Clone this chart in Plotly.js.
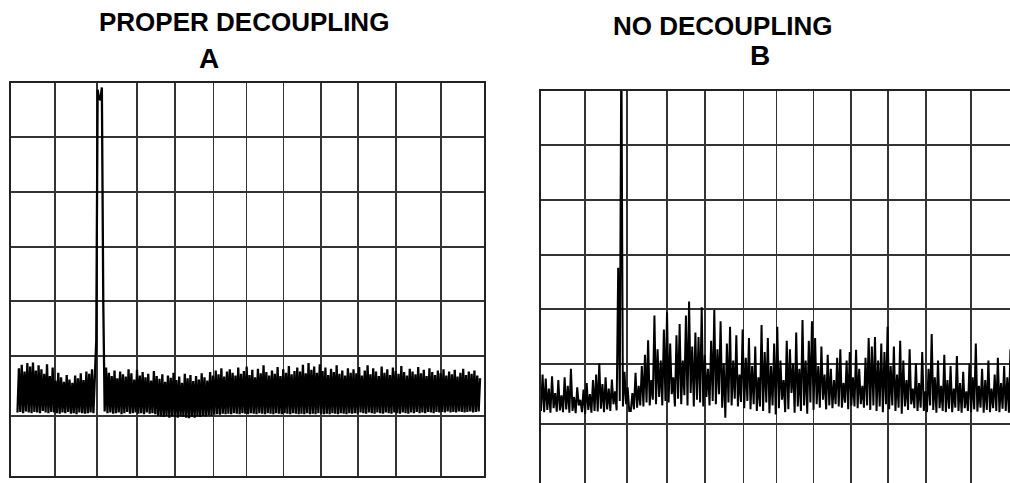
<!DOCTYPE html>
<html><head><meta charset="utf-8">
<script src="https://cdn.plot.ly/plotly-3.0.1.min.js"></script>
<style>html,body{margin:0;padding:0;background:#fff;} #chart{width:1010px;height:483px;}</style>
</head><body><div id="chart"></div>
<script>
// grid divisions (screen graticule), in division units
const colGrid = [0, 1.116, 2.181, 3.196, 4.16, 5.14, 5.98, 6.92, 7.864, 8.803, 9.767, 10.909, 12];
const rowGrid = [0, 1.069, 2.137, 3.117, 4.079, 5.059, 6.038, 7];

const titleA = "PROPER DECOUPLING";
const labelA = "A";
const titleB = "NO DECOUPLING";
const labelB = "B";

// frequency span of each sweep, in divisions
const spanA = [0.165, 11.9];
const spanB = [0, 11.95];

// trace amplitudes (divisions above bottom of screen)
const spectrumA = [
1.13,1.92,1.14,1.98,1.12,1.86,1.15,2.01,1.13,1.95,
1.12,2.02,1.14,1.88,1.13,1.97,1.12,1.90,1.16,1.82,
1.13,1.99,1.12,1.78,1.14,1.93,1.13,1.70,1.12,1.84,
1.11,1.76,1.13,1.68,1.12,1.80,1.14,1.72,1.11,1.66,
1.12,1.79,1.10,1.74,1.13,1.83,1.12,1.71,1.11,1.86,
1.12,1.82,1.13,1.90,1.12,1.95,2.40,6.88,6.72,6.70,
6.92,3.10,1.15,1.93,1.12,1.84,1.13,1.78,1.11,1.88,
1.12,1.74,1.13,1.86,1.10,1.81,1.12,1.77,1.14,1.90,
1.11,1.83,1.12,1.72,1.13,1.89,1.11,1.79,1.12,1.85,
1.10,1.76,1.13,1.82,1.11,1.70,1.12,1.87,1.10,1.78,
1.07,1.73,1.06,1.81,1.05,1.68,1.07,1.79,1.04,1.75,
1.06,1.84,1.05,1.71,1.04,1.77,1.06,1.66,1.05,1.82,
1.04,1.74,1.03,1.80,1.05,1.69,1.04,1.78,1.06,1.72,
1.05,1.83,1.07,1.76,1.06,1.70,1.08,1.85,1.07,1.79,
1.09,1.88,1.10,1.81,1.09,1.92,1.11,1.77,1.10,1.86,
1.11,1.90,1.10,1.84,1.12,1.79,1.11,1.93,1.10,1.82,
1.12,1.87,1.11,1.95,1.10,1.80,1.12,1.89,1.11,1.76,
1.10,1.91,1.12,1.83,1.11,1.97,1.10,1.85,1.12,1.79,
1.11,1.88,1.10,1.82,1.12,1.94,1.11,1.78,1.10,1.90,
1.12,1.84,1.11,1.96,1.10,1.81,1.12,1.87,1.11,1.93,
1.10,1.86,1.11,1.98,1.10,1.83,1.12,2.01,1.10,1.89,
1.11,1.95,1.10,1.84,1.12,1.99,1.11,1.87,1.10,1.93,
1.11,1.80,1.10,1.91,1.12,1.85,1.11,1.97,1.10,1.82,
1.12,1.88,1.11,1.79,1.10,1.92,1.12,1.84,1.11,1.90,
1.12,1.83,1.11,1.94,1.13,1.79,1.12,1.88,1.11,1.97,
1.13,1.81,1.12,1.92,1.11,1.86,1.13,1.78,1.12,1.95,
1.11,1.84,1.13,1.90,1.12,1.80,1.11,1.93,1.13,1.87,
1.12,1.82,1.11,1.96,1.13,1.85,1.12,1.79,1.11,1.91,
1.13,1.86,1.12,1.81,1.14,1.94,1.12,1.83,1.13,1.89,
1.12,1.78,1.14,1.92,1.13,1.85,1.12,1.80,1.14,1.88,
1.13,1.83,1.14,1.90,1.13,1.79,1.15,1.86,1.13,1.81,
1.14,1.89,1.13,1.77,1.15,1.84,1.14,1.91,1.13,1.80,
1.14,1.86,1.15,1.82,1.13,1.88,1.14,1.79,1.15,1.74
];

const spectrumB = [
1.30,1.95,1.28,1.88,1.32,1.70,1.27,1.92,1.35,1.62,
1.29,1.85,1.31,1.58,1.28,1.90,1.33,1.75,1.27,2.05,
1.30,1.55,1.26,1.72,1.40,1.50,1.28,1.68,1.25,1.80,
1.32,1.60,1.27,1.85,1.30,1.95,1.29,2.15,1.34,1.78,
1.28,1.90,1.33,1.70,1.30,1.86,1.42,1.65,1.31,3.85,
1.48,8.00,1.38,2.00,1.42,1.72,1.30,1.30,1.62,1.33,
1.98,1.36,1.75,1.40,2.10,1.38,2.30,1.45,2.56,1.40,
1.85,1.50,3.00,1.42,2.40,1.55,2.20,1.40,2.75,1.48,
3.06,1.45,2.50,1.60,1.90,1.38,2.65,1.52,2.85,1.42,
2.20,1.58,3.00,1.40,3.25,1.62,2.45,1.38,2.70,1.50,
2.62,1.45,3.15,1.38,2.30,1.55,2.05,1.40,2.55,1.48,
3.10,1.42,2.40,1.60,2.90,1.36,2.15,1.18,2.50,1.45,
2.80,1.40,2.20,1.52,2.65,1.38,1.95,1.46,2.75,1.35,
2.25,1.48,2.60,1.33,2.10,1.42,2.45,1.30,1.90,1.38,
2.83,1.30,2.35,1.45,2.60,1.26,2.10,1.40,2.50,1.24,
2.80,1.35,2.20,1.50,1.85,1.28,2.55,1.33,2.40,1.62,
2.15,1.27,2.70,1.38,2.05,1.30,2.92,1.40,2.20,1.25,
2.55,1.45,2.90,1.32,2.60,1.42,2.10,1.36,2.45,1.50,
1.95,1.33,2.30,1.40,2.05,1.35,1.85,1.42,2.25,1.38,
2.40,1.36,1.80,1.45,2.20,1.33,2.35,1.40,1.90,1.38,
2.39,1.35,2.05,1.42,1.75,1.36,2.25,1.40,2.60,1.32,
2.45,1.40,2.62,1.30,2.20,1.38,2.50,1.28,2.35,1.42,
2.80,1.33,2.10,1.40,2.45,1.30,1.95,1.36,2.55,1.25,
2.20,1.38,1.85,1.32,2.40,1.42,1.70,1.35,2.15,1.30,
1.80,1.36,2.35,1.30,1.65,1.28,2.05,1.40,2.67,1.32,
1.90,1.27,2.20,1.35,1.75,1.30,2.30,1.28,1.85,1.34,
2.10,1.28,1.70,1.36,2.28,1.30,1.80,1.27,2.00,1.35,
1.65,1.30,2.15,1.28,1.90,1.33,2.50,1.29,1.75,1.36,
2.05,1.27,1.85,1.32,2.20,1.28,1.70,1.35,1.95,1.30,
2.25,1.28,1.80,1.34,2.10,1.30,1.90,1.27,2.40,1.32
];

function sweep(vals, span) {
  return vals.map((_, i) => span[0] + i * (span[1] - span[0]) / (vals.length - 1));
}

const W = 1010, H = 483;
const px = v => v / W;
const py = v => 1 - v / H;

const gridCommon = {
  showgrid: true, gridcolor: '#333', gridwidth: 1.4,
  showticklabels: false, ticks: '', zeroline: false,
  linecolor: '#222', linewidth: 1.6, fixedrange: true
};

const traces = [
  { x: sweep(spectrumA, spanA), y: spectrumA, xaxis: 'x', yaxis: 'y',
    type: 'scatter', mode: 'lines', line: { color: '#000', width: 2.3 }, hoverinfo: 'skip' },
  { x: sweep(spectrumB, spanB), y: spectrumB, xaxis: 'x2', yaxis: 'y2',
    type: 'scatter', mode: 'lines', line: { color: '#000', width: 2 }, hoverinfo: 'skip' }
];

const titleFont = { family: 'Liberation Sans, Arial, sans-serif', size: 26, color: '#000', weight: 'bold' };
const labelFont = { family: 'Liberation Sans, Arial, sans-serif', size: 28, color: '#000', weight: 'bold' };

const layout = {
  width: W, height: H,
  margin: { l: 0, r: 0, t: 0, b: 0 },
  paper_bgcolor: '#fff', plot_bgcolor: '#fff',
  showlegend: false,
  xaxis: Object.assign({}, gridCommon, { domain: [px(11), px(484)], range: [0, 12], tickvals: colGrid,
    showline: true, mirror: true, anchor: 'y' }),
  yaxis: Object.assign({}, gridCommon, { domain: [py(476), py(83)], range: [0, 7], tickvals: rowGrid,
    showline: true, mirror: true, anchor: 'x' }),
  xaxis2: Object.assign({}, gridCommon, { domain: [px(541), 1], range: [0, 12 * 469 / 473], tickvals: colGrid,
    showline: true, mirror: false, side: 'top', anchor: 'y2' }),
  yaxis2: Object.assign({}, gridCommon, { domain: [0, py(91)], range: [1 / 56.14, 7], tickvals: rowGrid,
    showline: true, mirror: false, anchor: 'x2' }),
  annotations: [
    { text: '<b>' + titleA + '</b>', x: px(97), y: py(22), xref: 'paper', yref: 'paper',
      xanchor: 'left', yanchor: 'middle', showarrow: false, font: titleFont },
    { text: '<b>' + labelA + '</b>', x: px(209), y: py(58), xref: 'paper', yref: 'paper',
      xanchor: 'center', yanchor: 'middle', showarrow: false, font: labelFont },
    { text: '<b>' + titleB + '</b>', x: px(611), y: py(26), xref: 'paper', yref: 'paper',
      xanchor: 'left', yanchor: 'middle', showarrow: false, font: titleFont },
    { text: '<b>' + labelB + '</b>', x: px(760), y: py(56), xref: 'paper', yref: 'paper',
      xanchor: 'center', yanchor: 'middle', showarrow: false, font: labelFont }
  ]
};

Plotly.newPlot('chart', traces, layout, { staticPlot: true, displayModeBar: false });
</script>
</body></html>
